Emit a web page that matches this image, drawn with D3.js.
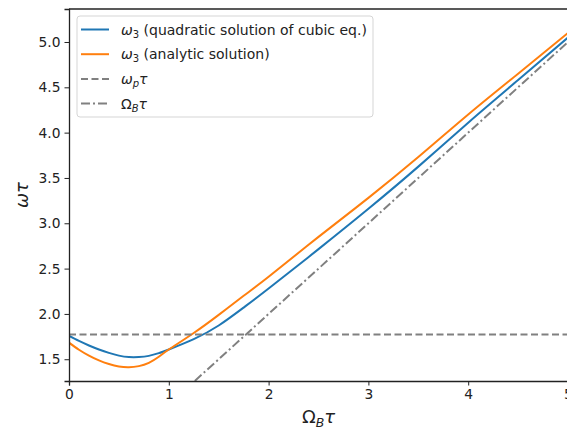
<!DOCTYPE html>
<html>
<head>
<meta charset="utf-8">
<script src="https://cdn.jsdelivr.net/npm/d3@7"></script>
<style>
  body { margin: 0; background: #fff; }
  svg { font-family: "DejaVu Sans", sans-serif; }
</style>
</head>
<body>
<div id="wrapper"></div>
<script>
// values
const omegaB = [0, 0.1, 0.2, 0.3, 0.4, 0.5, 0.6, 0.7, 0.8, 0.9, 1.0, 1.25, 1.5, 1.75, 2.0, 2.5, 3.0, 3.5, 4.0, 4.5, 5.0]
const quadratic = [1.757, 1.702, 1.652, 1.608, 1.57, 1.54, 1.524, 1.524, 1.537, 1.567, 1.608, 1.722, 1.872, 2.07, 2.28, 2.715, 3.16, 3.625, 4.11, 4.58, 5.05]
const analytic = [1.683, 1.605, 1.54, 1.487, 1.447, 1.42, 1.412, 1.424, 1.46, 1.527, 1.607, 1.79, 1.99, 2.2, 2.41, 2.85, 3.28, 3.73, 4.2, 4.65, 5.1]
const plasmaFreq = 1.7725
const cyclotronLine = [0, 5]
const xTicks = [0, 1, 2, 3, 4, 5]
const yTicks = [1.5, 2.0, 2.5, 3.0, 3.5, 4.0, 4.5, 5.0]

function drawChart() {
  let dimensions = {
    width: 567,
    height: 430,
    margin: { top: 9, right: -1, bottom: 49, left: 69 },
  }
  dimensions.boundedWidth = dimensions.width - dimensions.margin.left - dimensions.margin.right
  dimensions.boundedHeight = dimensions.height - dimensions.margin.top - dimensions.margin.bottom

  const wrapper = d3.select("#wrapper")
    .append("svg")
    .attr("width", dimensions.width)
    .attr("height", dimensions.height)

  const bounds = wrapper.append("g")
    .attr("transform", `translate(${dimensions.margin.left},${dimensions.margin.top})`)

  bounds.append("clipPath")
    .attr("id", "clip")
    .append("rect")
    .attr("width", dimensions.boundedWidth)
    .attr("height", dimensions.boundedHeight)

  const xScale = d3.scaleLinear()
    .domain([0, 5])
    .range([0, dimensions.boundedWidth])

  const yScale = d3.scaleLinear()
    .domain([1.26, 5.364])
    .range([dimensions.boundedHeight, 0])

  const plot = bounds.append("g").attr("clip-path", "url(#clip)")

  const lineGenerator = d3.line()
    .x((d, i) => xScale(omegaB[i]))
    .y(d => yScale(d))
    .curve(d3.curveNatural)

  plot.append("path")
    .attr("d", lineGenerator(quadratic))
    .attr("fill", "none")
    .attr("stroke", "#1f77b4")
    .attr("stroke-width", 2)

  plot.append("path")
    .attr("d", lineGenerator(analytic))
    .attr("fill", "none")
    .attr("stroke", "#ff7f0e")
    .attr("stroke-width", 2)

  plot.append("line")
    .attr("x1", xScale(0))
    .attr("x2", xScale(5))
    .attr("y1", yScale(plasmaFreq))
    .attr("y2", yScale(plasmaFreq))
    .attr("stroke", "#808080")
    .attr("stroke-width", 2)
    .attr("stroke-dasharray", "7,3.5")

  plot.append("line")
    .attr("x1", xScale(cyclotronLine[0]))
    .attr("x2", xScale(cyclotronLine[1]))
    .attr("y1", yScale(cyclotronLine[0]))
    .attr("y2", yScale(cyclotronLine[1]))
    .attr("stroke", "#808080")
    .attr("stroke-width", 2)
    .attr("stroke-dasharray", "9,3,2,3")

  // axes
  const xAxisGenerator = d3.axisBottom(xScale)
    .tickValues(xTicks)
    .tickFormat(d3.format("d"))
    .tickSizeOuter(0)
    .tickSize(4.5)
    .tickPadding(4)

  const xAxis = bounds.append("g")
    .attr("transform", `translate(0,${dimensions.boundedHeight})`)
    .call(xAxisGenerator)

  const yAxisGenerator = d3.axisLeft(yScale)
    .tickValues(yTicks)
    .tickFormat(d3.format(".1f"))
    .tickSizeOuter(0)
    .tickSize(4.5)
    .tickPadding(4)

  const yAxis = bounds.append("g")
    .call(yAxisGenerator)

  ;[xAxis, yAxis].forEach(ax => {
    ax.selectAll("text")
      .attr("fill", "#222")
      .style("font-size", "13.8px")
      .style("font-family", "DejaVu Sans")
    ax.selectAll(".tick line").attr("stroke", "#222").attr("stroke-width", 1)
    ax.select(".domain").attr("stroke", "#222").attr("stroke-width", 1.3)
  })

  bounds.append("line")
    .attr("x1", 0)
    .attr("x2", dimensions.boundedWidth)
    .attr("y1", 0)
    .attr("y2", 0)
    .attr("stroke", "#222")
    .attr("stroke-width", 1.3)

  // axis labels
  const xLabel = wrapper.append("text")
    .attr("x", dimensions.margin.left + dimensions.boundedWidth / 2)
    .attr("y", 423)
    .attr("text-anchor", "middle")
    .style("font-size", "18px")
    .attr("fill", "#222")
  xLabel.append("tspan").text("Ω")
  xLabel.append("tspan").attr("font-style", "italic").attr("font-size", "12.5px").attr("dy", 3.5).text("B")
  xLabel.append("tspan").attr("font-style", "italic").attr("dy", -3.5).text("τ")

  wrapper.append("text")
    .attr("transform", `translate(28,${dimensions.margin.top + dimensions.boundedHeight / 2}) rotate(-90)`)
    .attr("text-anchor", "middle")
    .style("font-size", "18px")
    .style("font-style", "italic")
    .attr("fill", "#222")
    .text("ωτ")

  // legend
  const legend = bounds.append("g")
    .attr("transform", "translate(8,7)")

  legend.append("rect")
    .attr("width", 296)
    .attr("height", 101)
    .attr("rx", 3)
    .attr("fill", "#fff")
    .attr("fill-opacity", 0.8)
    .attr("stroke", "#d5d5d5")

  const legendItems = [
    { color: "#1f77b4", dash: null, label: "quad" },
    { color: "#ff7f0e", dash: null, label: "anal" },
    { color: "#808080", dash: "7,3.5", label: "wp" },
    { color: "#808080", dash: "9,3,2,3", label: "OB" },
  ]

  legendItems.forEach((item, i) => {
    const row = legend.append("g")
      .attr("transform", `translate(0,${13.5 + i * 24.7})`)
    row.append("line")
      .attr("x1", 4)
      .attr("x2", 32)
      .attr("stroke", item.color)
      .attr("stroke-width", 2)
      .attr("stroke-dasharray", item.dash)

    const t = row.append("text")
      .attr("x", 44)
      .attr("y", 5)
      .style("font-size", "14px")
      .attr("fill", "#222")

    if (item.label == "quad" || item.label == "anal") {
      t.append("tspan").attr("font-style", "italic").text("ω")
      t.append("tspan").attr("font-size", "10px").attr("dy", 3).text("3")
      t.append("tspan").attr("dy", -3)
        .text(item.label == "quad" ? " (quadratic solution of cubic eq.)" : " (analytic solution)")
    } else if (item.label == "wp") {
      t.append("tspan").attr("font-style", "italic").text("ω")
      t.append("tspan").attr("font-style", "italic").attr("font-size", "10px").attr("dy", 3).text("p")
      t.append("tspan").attr("font-style", "italic").attr("dy", -3).text("τ")
    } else {
      t.append("tspan").text("Ω")
      t.append("tspan").attr("font-style", "italic").attr("font-size", "10px").attr("dy", 3).text("B")
      t.append("tspan").attr("font-style", "italic").attr("dy", -3).text("τ")
    }
  })
}
drawChart()
</script>
</body>
</html>
